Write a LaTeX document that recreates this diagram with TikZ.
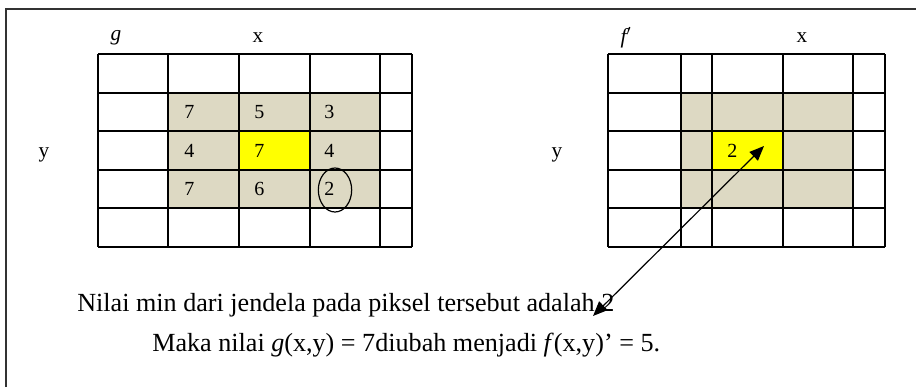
\documentclass[tikz,border=0pt]{standalone}
\usepackage{fontspec}
\newfontfamily\timesfont{Liberation Serif}
\usetikzlibrary{arrows.meta}
\usetikzlibrary{shapes.geometric}
\definecolor{c1}{RGB}{221, 217, 195}
\definecolor{c2}{RGB}{255, 255, 0}
\definecolor{c3}{RGB}{50, 50, 50}
\tikzstyle{every node}=[inner sep=0pt]
\tikzset{
  cell_num/.style={anchor=west, font=\timesfont\fontsize{15}{18}\selectfont},
  axis_lbl/.style={font=\timesfont\fontsize{16}{19}\selectfont},
  note/.style={anchor=west, font=\timesfont\fontsize{19.6}{23}\selectfont},
  grid_line/.style={line width=1.6pt},
  ring/.style={ellipse, draw, line width=0.9pt, minimum width=25pt, minimum height=33pt},
  edgeb/.style = {{Triangle[length=11pt, width=9pt]}-{Triangle[length=11pt, width=9pt]}, line width=0.9pt},
}

\begin{document}
\begin{tikzpicture}[x=0.75pt, y=-0.75pt]
	\useasboundingbox (0,0) rectangle (916,387);

	% frame
	\draw[c3, line width=1.5pt] (6,387) -- (6,9) -- (916,9);

	% window g
	\fill[c1] (168,93) rectangle (380,208);
	\fill[c2] (239,131) rectangle (310,170);
	\foreach \x in {98,168,239,310,380,412}
		\draw[grid_line] (\x,54) -- (\x,247);
	\foreach \y in {54,93,131,170,208,247}
		\draw[grid_line] (98,\y) -- (412,\y);

	% window f'
	\fill[c1] (681,93) rectangle (853,208);
	\fill[c2] (712,131) rectangle (783,170);
	\foreach \x in {608,681,712,783,853,885}
		\draw[grid_line] (\x,54) -- (\x,247);
	\foreach \y in {54,93,131,170,208,247}
		\draw[grid_line] (608,\y) -- (885,\y);

	\node[axis_lbl] (gl) at (116,38) {\itshape g};
	\node[axis_lbl] (gx) at (258,38) {x};
	\node[axis_lbl] (gy) at (44,155) {y};
	\node[axis_lbl] (fl) at (626,38) {\itshape f$'$};
	\node[axis_lbl] (fx) at (802,38) {x};
	\node[axis_lbl] (fy) at (557,155) {y};

	\node[cell_num] (a) at (184,112) {7};
	\node[cell_num] (b) at (254,112) {5};
	\node[cell_num] (c) at (324,112) {3};
	\node[cell_num] (d) at (184,151) {4};
	\node[cell_num] (e) at (254,151) {7};
	\node[cell_num] (f) at (324,151) {4};
	\node[cell_num] (g) at (184,189) {7};
	\node[cell_num] (h) at (254,189) {6};
	\node[cell_num] (i) at (324,189) {2};
	\node[ring] (min) at (335,190) {};

	\node[cell_num] (o) at (727,151) {2};

	\node[note] (t1) at (77,305) {Nilai min dari jendela pada piksel tersebut adalah 2};
	\node[note] (t2) at (152,345) {Maka nilai \textit{g}(x,y) = 7diubah menjadi \textit{f}(x,y)’ = 5.};

	\coordinate (p) at (593,316);
	\coordinate (q) at (764,146);
	\draw[edgeb] (p) -- (q);

\end{tikzpicture}
\end{document}
